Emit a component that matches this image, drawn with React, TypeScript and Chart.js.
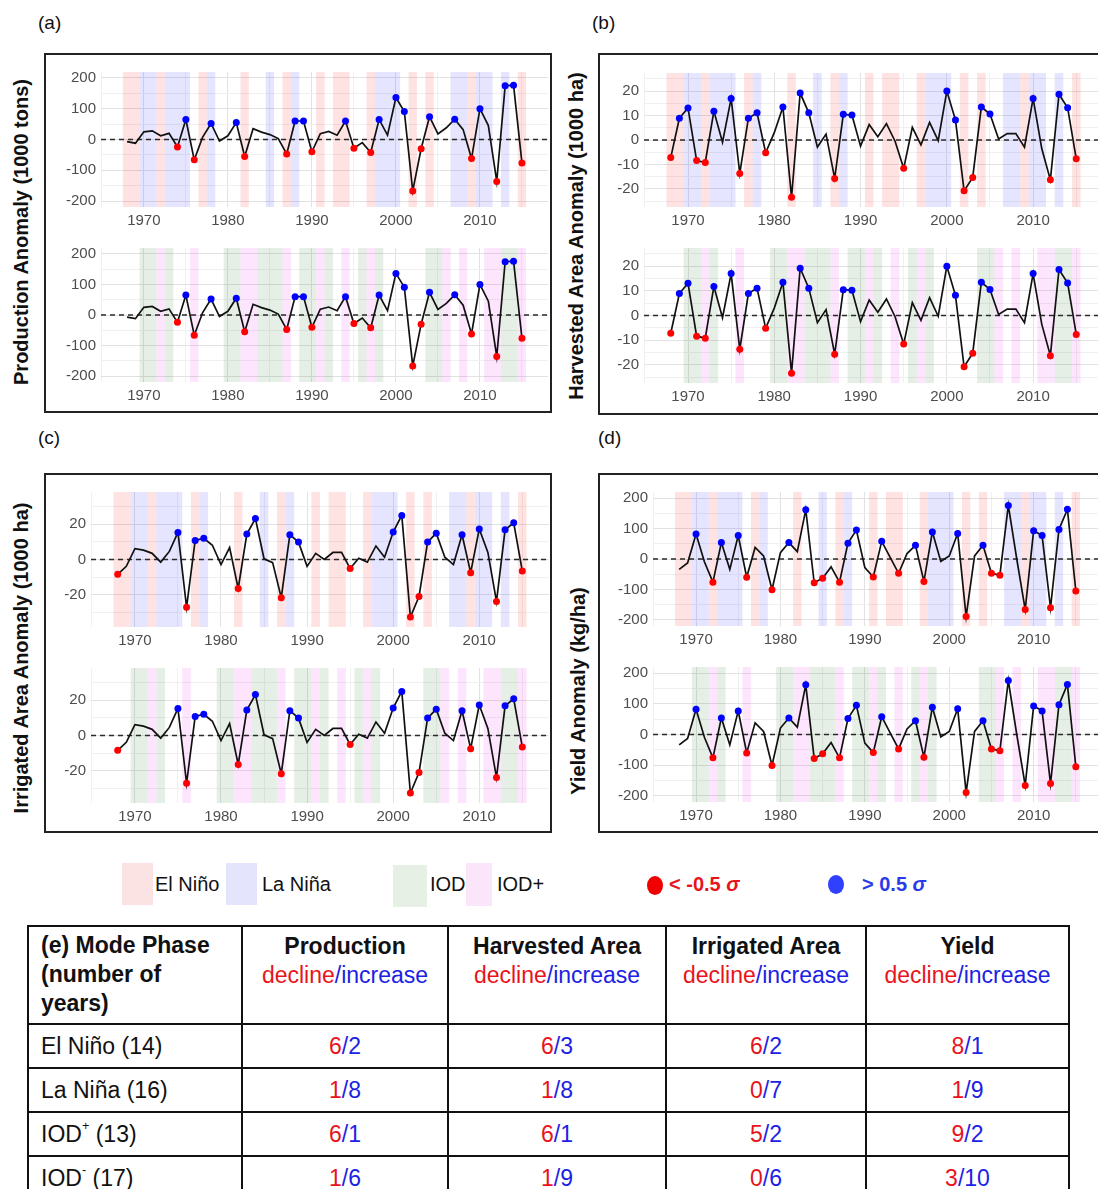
import React, { useEffect, useRef } from "react";
import { Chart, registerables } from "chart.js";
Chart.register(...registerables);

const FONT = "Arial, 'Liberation Sans', Helvetica, sans-serif";

// ---------------- DATA ----------------
const years = [
  1968, 1969, 1970, 1971, 1972, 1973, 1974, 1975, 1976, 1977,
  1978, 1979, 1980, 1981, 1982, 1983, 1984, 1985, 1986, 1987,
  1988, 1989, 1990, 1991, 1992, 1993, 1994, 1995, 1996, 1997,
  1998, 1999, 2000, 2001, 2002, 2003, 2004, 2005, 2006, 2007,
  2008, 2009, 2010, 2011, 2012, 2013, 2014, 2015,
];

const production = [
  -7, -12, 25, 28, 12, 20, -24, 65, -66, 8,
  52, -5, 12, 55, -55, 35, 24, 16, 3, -47,
  60, 60, -40, 19, 26, 14, 60, -28, -10, -42,
  65, 14, 136, 91, -167, -30, 74, 18, 38, 66,
  32, -62, 100, 45, -136, 174, 176, -76,
];
const productionLow = [1974, 1976, 1982, 1987, 1990, 1995, 1997, 2002, 2003, 2009, 2012, 2015];
const productionHigh = [1975, 1978, 1981, 1988, 1989, 1994, 1998, 2000, 2001, 2004, 2007, 2010, 2013, 2014];

const harvested = [
  -7.2, 8.9, 13.1, -8.4, -9.2, 11.8, -0.9, 17, -13.7, 8.9,
  11.1, -5.2, 3, 13.5, -23.4, 19.2, 11.1, -2.9, 2.4, -15.7,
  10.5, 10.2, -2.5, 6.3, 1.3, 6.7, -0.5, -11.6, 5.2, -2,
  7.2, -0.3, 20, 8.2, -20.8, -15.3, 13.5, 10.6, 0.4, 2.6,
  2.6, -2.9, 17, -3.5, -16.3, 18.7, 13.2, -7.7,
];
const harvestedLow = [1968, 1971, 1972, 1976, 1979, 1982, 1987, 1995, 2002, 2003, 2012, 2015];
const harvestedHigh = [1969, 1970, 1973, 1975, 1977, 1978, 1981, 1983, 1984, 1988, 1989, 2000, 2001, 2004, 2005, 2010, 2013, 2014];

const irrigated = [
  -8.4, -3.9, 6.2, 5.3, 3.5, -1.5, 4.6, 15.4, -27.2, 10.8,
  12.1, 8.1, -2.9, 6.8, -16.5, 14.5, 23.3, 0.4, -1.8, -21.7,
  14.1, 9.9, -3.9, 3.5, 0, 4, 4, -5.1, 0.7, -1.5,
  7.7, 1.3, 15.6, 25.1, -32.7, -21.1, 9.9, 15, 1.3, -2.9,
  14.1, -7.5, 17.4, 4, -23.9, 16.9, 20.9, -6.6,
];
const irrigatedLow = [1968, 1976, 1982, 1987, 1995, 2002, 2003, 2009, 2012, 2015];
const irrigatedHigh = [1975, 1977, 1978, 1983, 1984, 1988, 1989, 2000, 2001, 2004, 2005, 2008, 2010, 2013, 2014];

const yieldData = [
  -34, -13, 82, -10, -76, 54, -34, 77, -60, 38,
  10, -101, 21, 54, 24, 162, -78, -63, -26, -76,
  52, 95, -28, -59, 58, 5, -47, 18, 45, -74,
  89, -8, 10, 84, -189, 10, 45, -47, -53, 176,
  0, -166, 93, 77, -160, 97, 163, -105,
];
const yieldLow = [1972, 1976, 1979, 1984, 1985, 1987, 1991, 1994, 1997, 2002, 2005, 2006, 2009, 2012, 2015];
const yieldHigh = [1970, 1973, 1975, 1981, 1983, 1988, 1989, 1992, 1996, 1998, 2001, 2004, 2007, 2010, 2011, 2013, 2014];

const elNinoYears = [1968, 1969, 1972, 1977, 1982, 1987, 1991, 1993, 1994, 1997, 2002, 2004, 2009, 2015];
const laNinaYears = [1970, 1971, 1973, 1974, 1975, 1978, 1985, 1988, 1998, 1999, 2000, 2007, 2008, 2010, 2011, 2013];
const iodNegYears = [1970, 1971, 1973, 1980, 1981, 1984, 1985, 1986, 1989, 1990, 1992, 1996, 1998, 2004, 2005, 2013, 2014];
const iodPosYears = [1972, 1976, 1982, 1983, 1987, 1991, 1994, 1997, 2006, 2008, 2011, 2012, 2015];

const xTickLabels = [1970, 1980, 1990, 2000, 2010];
const xGridYears = [1965, 1970, 1975, 1980, 1985, 1990, 1995, 2000, 2005, 2010, 2015];

const productionYLabels = [-200, -100, 0, 100, 200];
const productionYGrid = [-200, -150, -100, -50, 0, 50, 100, 150, 200];
const harvestedYLabels = [-20, -10, 0, 10, 20];
const harvestedYGrid = [-25, -20, -15, -10, -5, 0, 5, 10, 15, 20, 25];
const irrigatedYLabels = [-20, 0, 20];
const irrigatedYGrid = [-30, -20, -10, 0, 10, 20, 30];
const yieldYLabels = [-200, -100, 0, 100, 200];
const yieldYGrid = [-200, -150, -100, -50, 0, 50, 100, 150, 200];

const tablePhases = ["El Niño", "La Niña", "IOD+", "IOD-"];
const tablePhaseCounts = [14, 16, 13, 17];
const tableColumns = ["Production", "Harvested Area", "Irrigated Area", "Yield"];
const productionCounts = [[6, 2], [1, 8], [6, 1], [1, 6]];
const harvestedCounts = [[6, 3], [1, 8], [6, 1], [1, 9]];
const irrigatedCounts = [[6, 2], [0, 7], [5, 2], [0, 6]];
const yieldCounts = [[8, 1], [1, 9], [9, 2], [3, 10]];

// ---------------- STYLE ----------------
const X_MIN = 1964.9;
const X_MAX = 2018.1;
const C_ELNINO = "rgba(255,0,0,0.11)";
const C_LANINA = "rgba(20,20,255,0.11)";
const C_IODNEG = "rgba(0,100,0,0.10)";
const C_IODPOS = "rgba(238,0,238,0.10)";
const RED = "#ff0000";
const BLUE = "#0000ff";
const T_RED = "#e8141c";
const T_BLUE = "#1c22e4";

const ensoBands = [
  { years: elNinoYears, color: C_ELNINO },
  { years: laNinaYears, color: C_LANINA },
];
const iodBands = [
  { years: iodNegYears, color: C_IODNEG },
  { years: iodPosYears, color: C_IODPOS },
];

type Band = { years: number[]; color: string };
type SubProps = {
  values: number[];
  low: number[];
  high: number[];
  bands: Band[];
  yMin: number;
  yMax: number;
  yGrid: number[];
  yLabels: number[];
  L: number;
  R: number;
  T: number;
  B: number;
};

const PAD_TOP = 9;
const YAXIS_W = 50;
const XAXIS_H = 30;

function SubChart(p: SubProps) {
  const ref = useRef<HTMLCanvasElement>(null);
  const left = p.L - YAXIS_W;
  const top = p.T - PAD_TOP;
  const width = p.R - left;
  const height = p.B - top + XAXIS_H;

  useEffect(() => {
    const bandPlugin = {
      id: "bands",
      beforeDatasetsDraw(chart: any) {
        const { ctx, chartArea } = chart;
        const x = chart.scales.x;
        ctx.save();
        ctx.beginPath();
        ctx.rect(chartArea.left, chartArea.top, chartArea.right - chartArea.left, chartArea.bottom - chartArea.top);
        ctx.clip();
        for (const band of p.bands) {
          const ys = [...band.years].sort((a, b) => a - b);
          let i = 0;
          while (i < ys.length) {
            let j = i;
            while (j + 1 < ys.length && ys[j + 1] === ys[j] + 1) j++;
            const x0 = x.getPixelForValue(ys[i] - 0.5);
            const x1 = x.getPixelForValue(ys[j] + 0.5);
            ctx.fillStyle = band.color;
            ctx.fillRect(x0, chartArea.top, x1 - x0, chartArea.bottom - chartArea.top);
            i = j + 1;
          }
        }
        ctx.restore();
      },
    };
    const marked = (y: number) => p.low.includes(y) || p.high.includes(y);
    const chart = new Chart(ref.current as HTMLCanvasElement, {
      type: "line",
      data: {
        datasets: [
          {
            data: years.map((y, i) => ({ x: y, y: p.values[i] })),
            borderColor: "#111",
            borderWidth: 1.7,
            pointRadius: years.map((y) => (marked(y) ? 3.5 : 0)),
            pointBackgroundColor: years.map((y) => (p.low.includes(y) ? RED : BLUE)),
            pointBorderWidth: 0,
            pointHoverRadius: 0,
            tension: 0,
            order: 1,
          },
          {
            data: [
              { x: X_MIN, y: 0 },
              { x: X_MAX, y: 0 },
            ],
            borderColor: "#2a2a2a",
            borderWidth: 1.6,
            borderDash: [5, 4],
            pointRadius: 0,
            order: 2,
          },
        ],
      } as any,
      options: {
        responsive: false,
        animation: false,
        events: [],
        layout: { padding: { top: PAD_TOP, left: 0, right: 0, bottom: 0 }, autoPadding: false },
        plugins: { legend: { display: false }, tooltip: { enabled: false } },
        scales: {
          x: {
            type: "linear",
            min: X_MIN,
            max: X_MAX,
            afterBuildTicks: (axis: any) => {
              axis.ticks = xGridYears.map((v) => ({ value: v }));
            },
            afterFit: (axis: any) => {
              axis.height = XAXIS_H;
            },
            ticks: {
              autoSkip: false,
              maxRotation: 0,
              padding: 5,
              color: "#4d4d4d",
              font: { family: FONT, size: 15 },
              callback: (v: any) => (xTickLabels.includes(v) ? String(v) : ""),
            },
            grid: {
              drawTicks: false,
              color: (c: any) => (xTickLabels.includes(c.tick && c.tick.value) ? "#e2e2e2" : "#f0f0f0"),
              lineWidth: 1,
            },
            border: { display: false },
          },
          y: {
            type: "linear",
            min: p.yMin,
            max: p.yMax,
            afterBuildTicks: (axis: any) => {
              axis.ticks = p.yGrid.map((v) => ({ value: v }));
            },
            afterFit: (axis: any) => {
              axis.width = YAXIS_W;
            },
            ticks: {
              autoSkip: false,
              padding: 5,
              color: "#4d4d4d",
              font: { family: FONT, size: 15 },
              callback: (v: any) => (p.yLabels.includes(v) ? String(v) : ""),
            },
            grid: {
              drawTicks: false,
              color: (c: any) => (p.yLabels.includes(c.tick && c.tick.value) ? "#e2e2e2" : "#f0f0f0"),
              lineWidth: 1,
            },
            border: { display: false },
          },
        },
      } as any,
      plugins: [bandPlugin],
    });
    return () => chart.destroy();
  }, []);

  return (
    <canvas
      ref={ref}
      width={width}
      height={height}
      style={{ position: "absolute", left, top, width, height }}
    />
  );
}

function YTitle({ text, cx, cy }: { text: string; cx: number; cy: number }) {
  return (
    <div
      style={{
        position: "absolute",
        left: cx,
        top: cy,
        transform: "translate(-50%, -50%) rotate(-90deg)",
        whiteSpace: "nowrap",
        fontFamily: FONT,
        fontWeight: "bold",
        fontSize: 20,
        color: "#111",
      }}
    >
      {text}
    </div>
  );
}

function PanelLabel({ text, x, y }: { text: string; x: number; y: number }) {
  return (
    <div style={{ position: "absolute", left: x, top: y, fontFamily: FONT, fontSize: 19, color: "#111", lineHeight: "20px" }}>
      {text}
    </div>
  );
}

function Box({ left, top, width, height }: { left: number; top: number; width: number; height: number }) {
  return (
    <div
      style={{
        position: "absolute",
        left,
        top,
        width,
        height,
        border: "2px solid #222",
        boxSizing: "border-box",
      }}
    />
  );
}

function PhaseLabel({ phase, count }: { phase: string; count: number }) {
  if (phase.startsWith("IOD")) {
    const sign = phase.slice(3);
    return (
      <span>
        IOD<sup style={{ fontSize: "55%", verticalAlign: "top", position: "relative", top: -2 }}>{sign}</sup> ({count})
      </span>
    );
  }
  return (
    <span>
      {phase} ({count})
    </span>
  );
}

function Ratio({ v }: { v: number[] }) {
  return (
    <span>
      <span style={{ color: T_RED }}>{v[0]}</span>
      <span style={{ color: T_BLUE }}>/{v[1]}</span>
    </span>
  );
}

function SummaryTable() {
  const cols = [productionCounts, harvestedCounts, irrigatedCounts, yieldCounts];
  const widths = [214, 206, 218, 200, 203];
  const cell: React.CSSProperties = {
    border: "2px solid #111",
    padding: 0,
    fontSize: 23,
    color: "#111",
  };
  return (
    <table
      style={{
        position: "absolute",
        left: 27,
        top: 925,
        borderCollapse: "collapse",
        tableLayout: "fixed",
        width: 1041,
        fontFamily: FONT,
      }}
    >
      <colgroup>
        {widths.map((w, i) => (
          <col key={i} style={{ width: w }} />
        ))}
      </colgroup>
      <tbody>
        <tr style={{ height: 98 }}>
          <td
            style={{
              ...cell,
              textAlign: "left",
              verticalAlign: "top",
              fontWeight: "bold",
              lineHeight: "29px",
              paddingLeft: 12,
              paddingTop: 4,
            }}
          >
            (e) Mode Phase
            <br />
            (number of
            <br />
            years)
          </td>
          {tableColumns.map((c) => (
            <td
              key={c}
              style={{ ...cell, textAlign: "center", verticalAlign: "top", lineHeight: "29px", paddingTop: 5 }}
            >
              <span style={{ fontWeight: "bold" }}>{c}</span>
              <br />
              <span style={{ color: T_RED }}>decline</span>
              <span style={{ color: T_BLUE }}>/increase</span>
            </td>
          ))}
        </tr>
        {tablePhases.map((ph, r) => (
          <tr key={ph} style={{ height: 44 }}>
            <td style={{ ...cell, textAlign: "left", paddingLeft: 12 }}>
              <PhaseLabel phase={ph} count={tablePhaseCounts[r]} />
            </td>
            {cols.map((col, k) => (
              <td key={k} style={{ ...cell, textAlign: "center" }}>
                <Ratio v={col[r]} />
              </td>
            ))}
          </tr>
        ))}
      </tbody>
    </table>
  );
}

function Legend() {
  const sq = (left: number, top: number, w: number, h: number, bg: string) => (
    <div style={{ position: "absolute", left, top, width: w, height: h, background: bg }} />
  );
  const txt = (left: number, s: React.ReactNode, extra: React.CSSProperties = {}) => (
    <div
      style={{
        position: "absolute",
        left,
        top: 871,
        lineHeight: "26px",
        fontFamily: FONT,
        fontSize: 20,
        color: "#111",
        whiteSpace: "nowrap",
        ...extra,
      }}
    >
      {s}
    </div>
  );
  return (
    <>
      {sq(122, 863, 31, 42, "#fce3e3")}
      {txt(155, "El Niño")}
      {sq(226, 863, 31, 42, "#e4e4fc")}
      {txt(262, "La Niña")}
      {sq(393, 865, 34, 42, "#e7f0e5")}
      {txt(430, "IOD-")}
      {sq(466, 863, 26, 43, "#fbe5fb")}
      {txt(497, "IOD+")}
      <div style={{ position: "absolute", left: 647, top: 876, width: 16, height: 19, borderRadius: "50%", background: "#f00000" }} />
      {txt(
        669,
        <span>
          {"< -0.5 "}
          <i>σ</i>
        </span>,
        { color: "#e8141c", fontWeight: "bold" }
      )}
      <div style={{ position: "absolute", left: 828, top: 875, width: 16, height: 19, borderRadius: "50%", background: "#3040ff" }} />
      {txt(
        862,
        <span>
          {"> 0.5 "}
          <i>σ</i>
        </span>,
        { color: "#2a3ae8", fontWeight: "bold" }
      )}
    </>
  );
}

export default function App() {
  return (
    <div
      style={{
        position: "absolute",
        left: 0,
        top: 0,
        width: 1098,
        height: 1189,
        overflow: "hidden",
        background: "#fff",
        fontFamily: FONT,
      }}
    >
      <PanelLabel text="(a)" x={38} y={13} />
      <PanelLabel text="(b)" x={592} y={13} />
      <PanelLabel text="(c)" x={38} y={428} />
      <PanelLabel text="(d)" x={598} y={428} />

      <Box left={44} top={53} width={508} height={360} />
      <Box left={598} top={53} width={540} height={362} />
      <Box left={44} top={473} width={508} height={360} />
      <Box left={598} top={473} width={540} height={360} />

      <YTitle text="Production Anomaly (1000 tons)" cx={21} cy={232} />
      <YTitle text="Harvested Area Anomaly (1000 ha)" cx={576} cy={236} />
      <YTitle text="Irrigated Area Anomaly (1000 ha)" cx={21} cy={658} />
      <YTitle text="Yield Anomaly (kg/ha)" cx={578} cy={691} />

      {/* (a) production */}
      <SubChart values={production} low={productionLow} high={productionHigh} bands={ensoBands}
        yMin={-219} yMax={219} yGrid={productionYGrid} yLabels={productionYLabels} L={101} R={548} T={67} B={207} />
      <SubChart values={production} low={productionLow} high={productionHigh} bands={iodBands}
        yMin={-219} yMax={219} yGrid={productionYGrid} yLabels={productionYLabels} L={101} R={548} T={243} B={382} />

      {/* (b) harvested area */}
      <SubChart values={harvested} low={harvestedLow} high={harvestedHigh} bands={ensoBands}
        yMin={-27.4} yMax={27.4} yGrid={harvestedYGrid} yLabels={harvestedYLabels} L={644} R={1103} T={68} B={207} />
      <SubChart values={harvested} low={harvestedLow} high={harvestedHigh} bands={iodBands}
        yMin={-27.4} yMax={27.4} yGrid={harvestedYGrid} yLabels={harvestedYLabels} L={644} R={1103} T={243} B={383} />

      {/* (c) irrigated area */}
      <SubChart values={irrigated} low={irrigatedLow} high={irrigatedHigh} bands={ensoBands}
        yMin={-38.4} yMax={38.4} yGrid={irrigatedYGrid} yLabels={irrigatedYLabels} L={91} R={549} T={487} B={627} />
      <SubChart values={irrigated} low={irrigatedLow} high={irrigatedHigh} bands={iodBands}
        yMin={-38.4} yMax={38.4} yGrid={irrigatedYGrid} yLabels={irrigatedYLabels} L={91} R={549} T={663} B={803} />

      {/* (d) yield */}
      <SubChart values={yieldData} low={yieldLow} high={yieldHigh} bands={ensoBands}
        yMin={-220} yMax={220} yGrid={yieldYGrid} yLabels={yieldYLabels} L={653} R={1102} T={487} B={626} />
      <SubChart values={yieldData} low={yieldLow} high={yieldHigh} bands={iodBands}
        yMin={-220} yMax={220} yGrid={yieldYGrid} yLabels={yieldYLabels} L={653} R={1102} T={662} B={802} />

      <Legend />
      <SummaryTable />
    </div>
  );
}
